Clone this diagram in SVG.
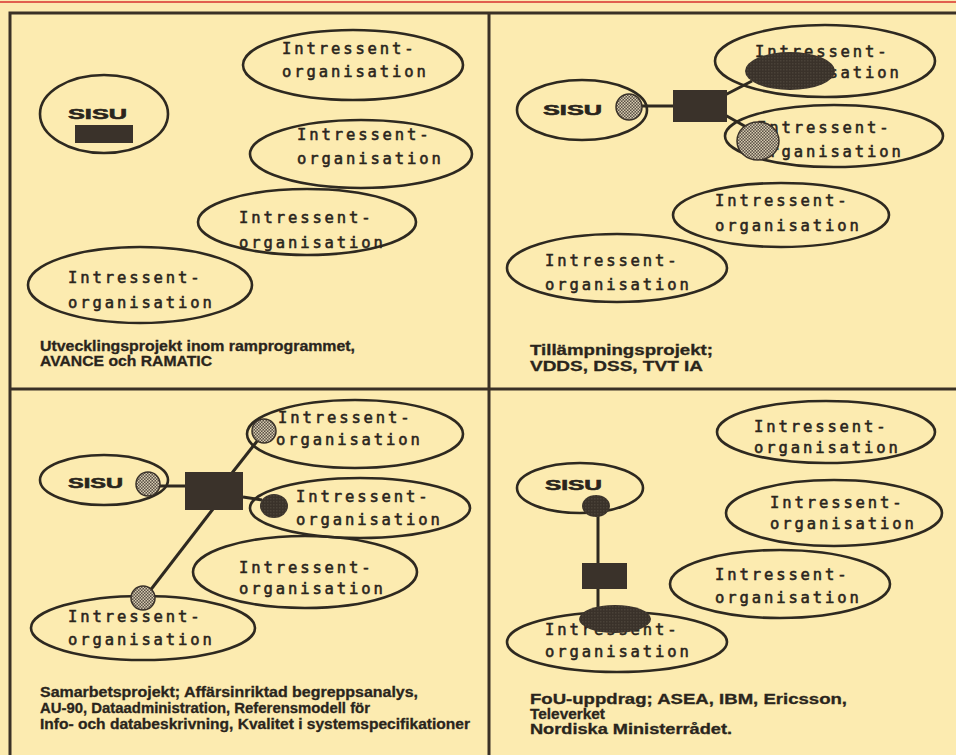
<svg xmlns="http://www.w3.org/2000/svg" width="956" height="755" viewBox="0 0 956 755">
<defs>
<pattern id="dots" width="3" height="3" patternUnits="userSpaceOnUse">
<rect width="3" height="3" fill="#5a5046"/>
<rect x="0" y="0" width="1.5" height="1.5" fill="#d6cbb0"/>
<rect x="1.5" y="1.5" width="1.5" height="1.5" fill="#d6cbb0"/>
</pattern>
<pattern id="dark" width="3" height="3" patternUnits="userSpaceOnUse">
<rect width="3" height="3" fill="#3a322a"/>
<rect x="0" y="0" width="1.5" height="1.5" fill="#4a4238"/>
</pattern>
</defs>
<style>
.frame{stroke:#3a3126;stroke-width:3;fill:none}
.org{fill:none;stroke:#2e2920;stroke-width:2.6}
.lbl{font-family:"DejaVu Sans Mono","Liberation Mono",monospace;font-size:15.5px;letter-spacing:2.9px;fill:#2a251c;stroke:#2a251c;stroke-width:0.55}
.sisu{font-family:"Liberation Sans",Arial,sans-serif;font-weight:bold;font-size:15px;fill:#2a251c;stroke:#2a251c;stroke-width:0.6}
.cap{font-family:"Liberation Sans",Arial,sans-serif;font-weight:bold;font-size:14.5px;fill:#2a251c;stroke:#2a251c;stroke-width:0.3}
.box{fill:#3a322a}
.stip{fill:url(#dots);stroke:#3a322a;stroke-width:1.5}
.blk{fill:url(#dark)}
.con{stroke:#2e2920;stroke-width:3;fill:none}
</style>
<rect width="956" height="755" fill="#fcebb0"/>
<line x1="0" y1="2" x2="956" y2="2" stroke="#d8322e" stroke-width="1.6"/>
<g id="frame">
<path class="frame" d="M10 755 V13 H956"/>
<line class="frame" x1="489" y1="13" x2="489" y2="755" stroke-width="2.6"/>
<line class="frame" x1="10" y1="389" x2="956" y2="389" stroke-width="2.6"/>
</g>

<!-- Quadrant 1 -->
<g id="q1-sisu">
<ellipse class="org" cx="104" cy="114" rx="64" ry="39"/>
<text class="sisu" x="68" y="119" textLength="59" lengthAdjust="spacingAndGlyphs">SISU</text>
<rect class="box" x="75" y="125" width="58" height="18"/>
</g>
<g id="q1-org1">
<ellipse class="org" cx="353" cy="65" rx="110" ry="35"/>
<text class="lbl" x="282" y="54">Intressent-</text>
<text class="lbl" x="282" y="77">organisation</text>
</g>
<g id="q1-org2">
<ellipse class="org" cx="361" cy="154" rx="111" ry="34"/>
<text class="lbl" x="297" y="140">Intressent-</text>
<text class="lbl" x="297" y="164">organisation</text>
</g>
<g id="q1-org3">
<ellipse class="org" cx="307" cy="222" rx="109" ry="33"/>
<text class="lbl" x="239" y="223">Intressent-</text>
<text class="lbl" x="239" y="248">organisation</text>
</g>
<g id="q1-org4">
<ellipse class="org" cx="140" cy="285" rx="112" ry="38"/>
<text class="lbl" x="68" y="283">Intressent-</text>
<text class="lbl" x="68" y="308">organisation</text>
</g>
<g id="q1-caption">
<text class="cap" x="40" y="351" textLength="315" lengthAdjust="spacingAndGlyphs">Utvecklingsprojekt inom ramprogrammet,</text>
<text class="cap" x="40" y="366" textLength="172" lengthAdjust="spacingAndGlyphs">AVANCE och RAMATIC</text>
</g>

<!-- Quadrant 2 -->
<g id="q2-connectors">
<line class="con" x1="641" y1="106" x2="673" y2="106"/>
<line class="con" x1="725" y1="95" x2="752" y2="81"/>
<line class="con" x1="725" y1="115" x2="748" y2="128"/>
</g>
<g id="q2-sisu">
<ellipse class="org" cx="582" cy="110" rx="65" ry="30"/>
<text class="sisu" x="543" y="115" textLength="59" lengthAdjust="spacingAndGlyphs">SISU</text>
<circle class="stip" cx="629" cy="107" r="13"/>
</g>
<g id="q2-hub">
<rect class="box" x="673" y="90" width="54" height="32"/>
</g>
<g id="q2-org1">
<ellipse class="org" cx="825" cy="61" rx="110" ry="36"/>
<text class="lbl" x="755" y="57">Intressent-</text>
<text class="lbl" x="755" y="78">organisation</text>
<ellipse class="blk" cx="790" cy="71" rx="45" ry="19"/>
</g>
<g id="q2-org2">
<ellipse class="org" cx="834" cy="136" rx="109" ry="31"/>
<text class="lbl" x="757" y="133">Intressent-</text>
<text class="lbl" x="757" y="157">organisation</text>
<ellipse class="stip" cx="758" cy="141" rx="21" ry="19"/>
</g>
<g id="q2-org3">
<ellipse class="org" cx="781" cy="215" rx="108" ry="32"/>
<text class="lbl" x="715" y="206">Intressent-</text>
<text class="lbl" x="715" y="231">organisation</text>
</g>
<g id="q2-org4">
<ellipse class="org" cx="617" cy="268" rx="110" ry="34"/>
<text class="lbl" x="545" y="266">Intressent-</text>
<text class="lbl" x="545" y="290">organisation</text>
</g>
<g id="q2-caption">
<text class="cap" x="530" y="355" textLength="183" lengthAdjust="spacingAndGlyphs">Tillämpningsprojekt;</text>
<text class="cap" x="530" y="371" textLength="173" lengthAdjust="spacingAndGlyphs">VDDS, DSS, TVT IA</text>
</g>

<!-- Quadrant 3 -->
<g id="q3-connectors">
<line class="con" x1="160" y1="486" x2="185" y2="486"/>
<line class="con" x1="232" y1="473" x2="258" y2="440"/>
<line class="con" x1="243" y1="497" x2="262" y2="500"/>
<line class="con" x1="213" y1="509" x2="149" y2="592"/>
</g>
<g id="q3-sisu">
<ellipse class="org" cx="104" cy="480" rx="64" ry="25"/>
<text class="sisu" x="68" y="488" textLength="55" lengthAdjust="spacingAndGlyphs">SISU</text>
<circle class="stip" cx="148" cy="484" r="12"/>
</g>
<g id="q3-hub">
<rect class="box" x="185" y="472" width="58" height="38"/>
</g>
<g id="q3-org1">
<ellipse class="org" cx="355" cy="434" rx="108" ry="34"/>
<text class="lbl" x="278" y="423">Intressent-</text>
<text class="lbl" x="276" y="445">organisation</text>
<circle class="stip" cx="264" cy="431" r="12"/>
</g>
<g id="q3-org2">
<ellipse class="org" cx="360" cy="508" rx="110" ry="30"/>
<text class="lbl" x="296" y="502">Intressent-</text>
<text class="lbl" x="296" y="525">organisation</text>
<ellipse class="blk" cx="274" cy="506" rx="14" ry="12"/>
</g>
<g id="q3-org3">
<ellipse class="org" cx="305" cy="572" rx="112" ry="36"/>
<text class="lbl" x="239" y="573">Intressent-</text>
<text class="lbl" x="239" y="594">organisation</text>
</g>
<g id="q3-org4">
<ellipse class="org" cx="143" cy="628" rx="112" ry="32"/>
<text class="lbl" x="68" y="622">Intressent-</text>
<text class="lbl" x="68" y="645">organisation</text>
<circle class="stip" cx="143" cy="598" r="12"/>
</g>
<g id="q3-caption">
<text class="cap" x="40" y="697" textLength="378" lengthAdjust="spacingAndGlyphs">Samarbetsprojekt; Affärsinriktad begreppsanalys,</text>
<text class="cap" x="40" y="713" textLength="330" lengthAdjust="spacingAndGlyphs">AU-90, Dataadministration, Referensmodell för</text>
<text class="cap" x="40" y="729" textLength="430" lengthAdjust="spacingAndGlyphs">Info- och databeskrivning, Kvalitet i systemspecifikationer</text>
</g>

<!-- Quadrant 4 -->
<g id="q4-connectors">
<line class="con" x1="598" y1="512" x2="598" y2="563"/>
<line class="con" x1="598" y1="588" x2="598" y2="608"/>
</g>
<g id="q4-sisu">
<ellipse class="org" cx="580" cy="488" rx="63" ry="25"/>
<text class="sisu" x="545" y="490" textLength="57" lengthAdjust="spacingAndGlyphs">SISU</text>
<ellipse class="blk" cx="596" cy="506" rx="14" ry="11"/>
</g>
<g id="q4-hub">
<rect class="box" x="582" y="563" width="45" height="26"/>
</g>
<g id="q4-org1">
<ellipse class="org" cx="826" cy="432" rx="109" ry="31"/>
<text class="lbl" x="754" y="432">Intressent-</text>
<text class="lbl" x="754" y="453">organisation</text>
</g>
<g id="q4-org2">
<ellipse class="org" cx="834" cy="513" rx="108" ry="33"/>
<text class="lbl" x="770" y="508">Intressent-</text>
<text class="lbl" x="770" y="529">organisation</text>
</g>
<g id="q4-org3">
<ellipse class="org" cx="780" cy="584" rx="110" ry="34"/>
<text class="lbl" x="715" y="580">Intressent-</text>
<text class="lbl" x="715" y="603">organisation</text>
</g>
<g id="q4-org4">
<ellipse class="org" cx="617" cy="642" rx="110" ry="30"/>
<text class="lbl" x="545" y="635">Intressent-</text>
<text class="lbl" x="545" y="657">organisation</text>
<ellipse class="blk" cx="615" cy="619" rx="36" ry="14"/>
</g>
<g id="q4-caption">
<text class="cap" x="530" y="704" textLength="317" lengthAdjust="spacingAndGlyphs">FoU-uppdrag; ASEA, IBM, Ericsson,</text>
<text class="cap" x="530" y="719" textLength="75" lengthAdjust="spacingAndGlyphs">Televerket</text>
<text class="cap" x="530" y="734" textLength="202" lengthAdjust="spacingAndGlyphs">Nordiska Ministerrådet.</text>
</g>
</svg>
